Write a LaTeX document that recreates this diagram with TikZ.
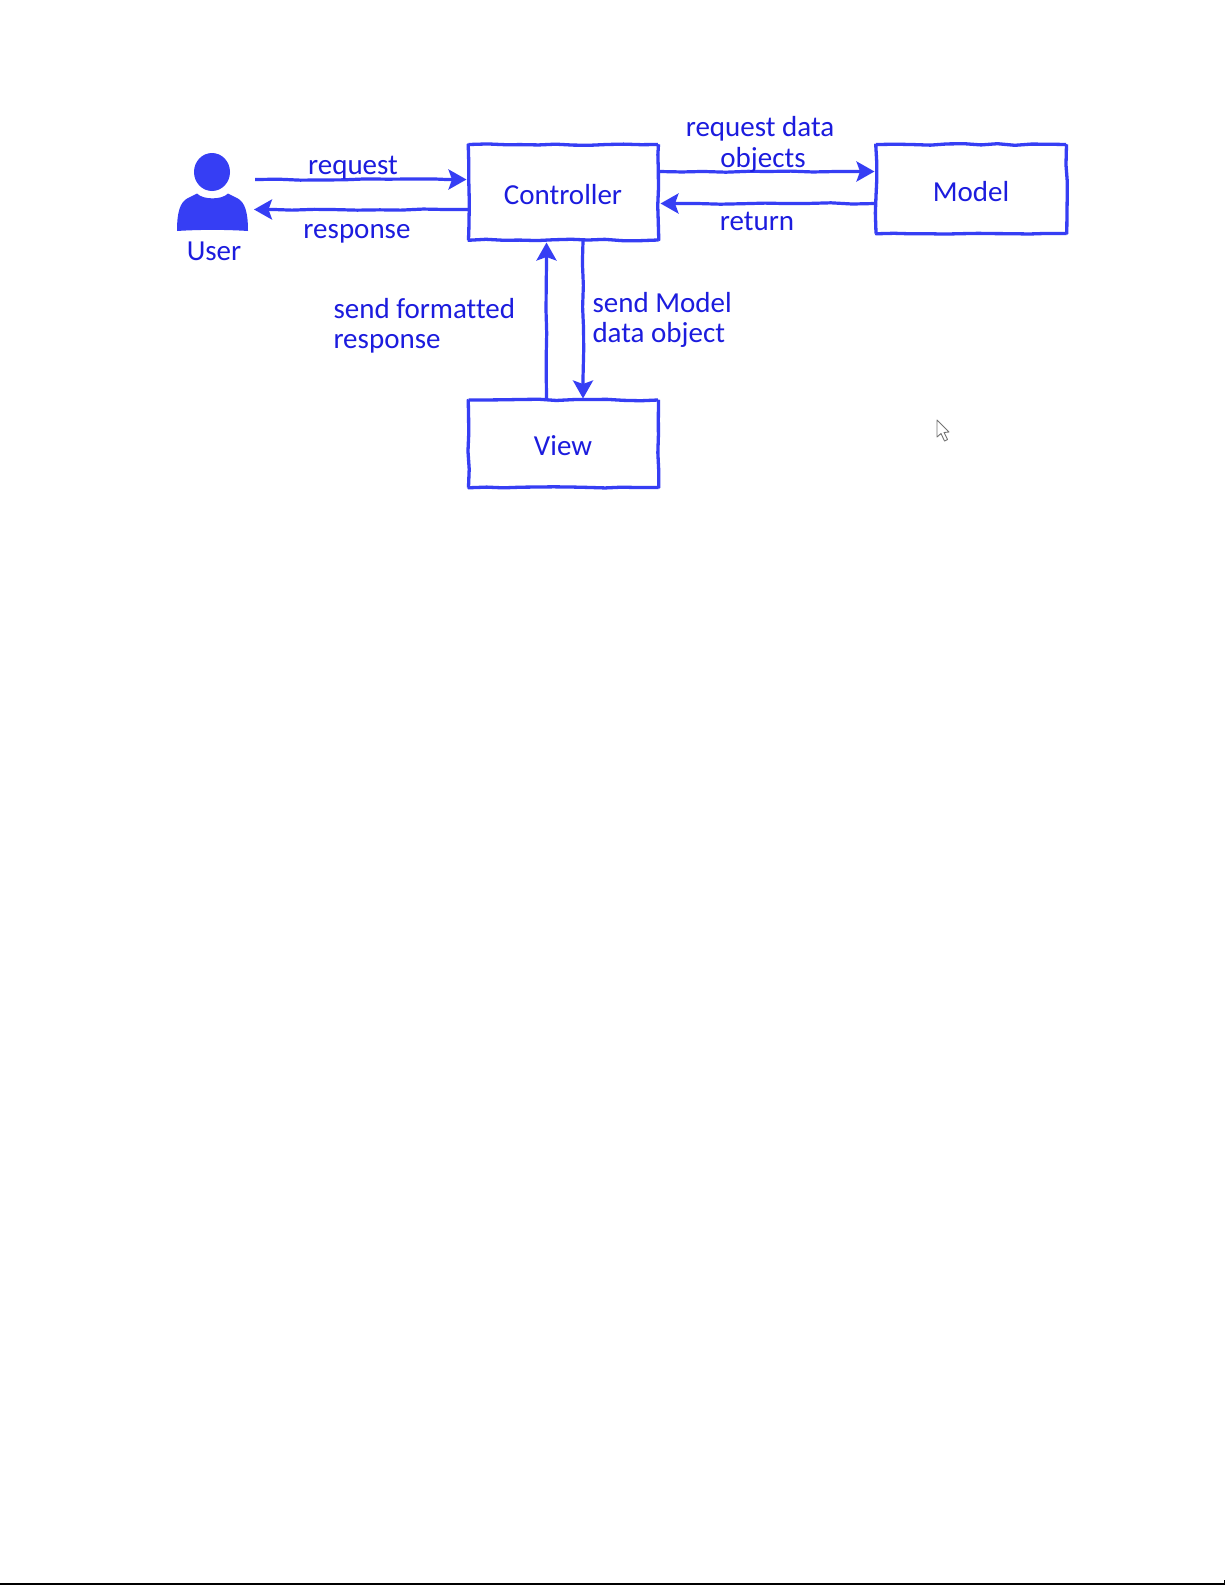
\documentclass[tikz,border=0pt]{standalone}
\usepackage{fontspec}
\setmainfont[Ligatures={NoCommon}]{Carlito}
\usetikzlibrary{arrows.meta,decorations.pathmorphing,calc}
\definecolor{inkline}{RGB}{54,62,244}
\definecolor{inktext}{RGB}{28,28,222}
\tikzset{
  x=1pt,y=-1pt,
  boxn/.style={draw=inkline,line width=3.3pt,minimum width=#1,inner sep=0pt,outer sep=0pt,rounded corners=.5pt,
    decorate,decoration={random steps,segment length=17pt,amplitude=.8pt}},
  lab/.style={text=inktext,font=\fontsize{29}{30}\selectfont,inner sep=0pt,outer sep=0pt},
  conn/.style={draw=inkline,line width=3.2pt,-{Stealth[length=18pt,width=20pt,inset=3.5pt]},
    decorate,decoration={random steps,segment length=22pt,amplitude=.7pt,post length=20pt,pre length=1pt}},
}
\pgfmathsetseed{7}
\begin{document}
\begin{tikzpicture}
\useasboundingbox (0,0) rectangle (1225,1585);
\fill[white] (0,0) rectangle (1225,1585);
% boxes
\node[boxn=190pt,minimum height=95.5pt,anchor=north west] (ctrl) at (468.5,144.5) {};
\node[boxn=190.5pt,minimum height=89pt,anchor=north west] (model) at (876,144.5) {};
\node[boxn=190pt,minimum height=87.5pt,anchor=north west] (view) at (468.5,400) {};
% box labels
\node[lab,anchor=base] at (563,204) {Controller};
\node[lab,anchor=base] at (971,201) {Model};
\node[lab,anchor=base] at (563,455.5) {View};
% user
\node[inner sep=0pt,outer sep=0pt,minimum width=71pt,minimum height=78pt,anchor=north west] (user) at (177,153) {};
\fill[inkline] (user.north)+(-.5,19) ellipse[x radius=18,y radius=19];
\fill[inkline] (177,231) .. controls (177,212) and (180,202) .. (188,198)
  -- (197,193.5) .. controls (203,200) and (222,200) .. (228,193.5)
  -- (237,198) .. controls (245,202) and (248,212) .. (248,231)
  .. controls (225,229.5) and (200,229.5) .. cycle;
\node[lab,anchor=base] (userlab) at (214,260) {User};
% connectors
\coordinate (rqs) at ([xshift=7pt]user.east |- 0,179.5);
\coordinate (rqe) at ([yshift=-35pt]ctrl.north west);
\draw[conn] (rqs) -- ([xshift=-2pt]rqe);
\coordinate (rsS) at ([yshift=-65pt]ctrl.north west);
\draw[conn] (rsS) -- ([xshift=6pt]user.east |- rsS);
\coordinate (mdS) at ([yshift=-27pt]ctrl.north east);
\coordinate (mdE) at ([yshift=-27pt]model.north west);
\draw[conn] (mdS) -- ([xshift=-1.5pt]mdE);
\coordinate (rtS) at ([yshift=-59pt]model.north west);
\coordinate (rtE) at ([yshift=-59pt]ctrl.north east);
\draw[conn] (rtS) -- ([xshift=2pt]rtE);
\coordinate (upS) at ([xshift=78pt]view.north west);
\coordinate (upE) at ([xshift=78pt]ctrl.south west);
\draw[conn] (upS) -- ([yshift=-2.5pt]upE);
\coordinate (dnS) at ([xshift=114.5pt]ctrl.south west);
\coordinate (dnE) at ([xshift=114.5pt]view.north west);
\draw[conn] (dnS) -- ([yshift=1.5pt]dnE);
% connector labels
\node[lab,anchor=base] at (353,174) {request};
\node[lab,anchor=base] at (357,238) {response};
\node[lab,anchor=base] at (760,136) {request data};
\node[lab,anchor=base] at (763,167) {objects};
\node[lab,anchor=base] at (757,230) {return};
\node[lab,anchor=base west] at (333.5,318) {send formatted};
\node[lab,anchor=base west] at (333.5,348) {response};
\node[lab,anchor=base west] at (592.5,312) {send Model};
\node[lab,anchor=base west] at (592.5,342) {data object};
% cursor
\draw[fill=white,draw=black!55,line width=.9pt,line join=round] (937,420) -- (937,437) -- (941,433.5) -- (944.5,441) -- (947.5,439.5) -- (944,432.5) -- (949,432) -- cycle;
% page edge
\fill[black] (0,1583) rectangle (1225,1585);
\fill[black] (1224,1580) rectangle (1225,1585);
\end{tikzpicture}
\end{document}
